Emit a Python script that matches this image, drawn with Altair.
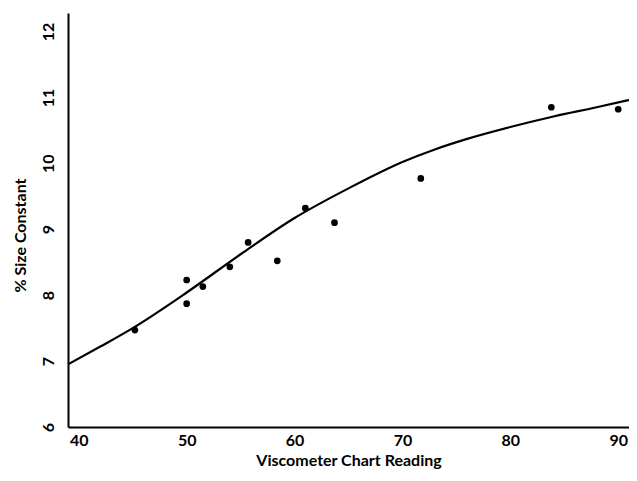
import altair as alt
import pandas as pd

# Measured data points
pt_x = [45.2, 50.0, 50.0, 51.5, 54.0, 55.7, 58.4, 61.0, 63.7, 71.7, 83.8, 90.0]
pt_y = [7.47, 8.23, 7.87, 8.13, 8.43, 8.80, 8.52, 9.32, 9.10, 9.77, 10.85, 10.82]

# Fitted curve
curve_x = [39.0, 42.0, 45.0, 50.0, 55.0, 60.0, 65.0, 70.0, 73.0, 76.0, 80.0, 84.0, 88.0, 91.0]
curve_y = [6.95, 7.22, 7.50, 8.04, 8.62, 9.17, 9.62, 10.02, 10.21, 10.37, 10.55, 10.71, 10.85, 10.96]

x_ticks = [40, 50, 60, 70, 80, 90]
y_ticks = [6, 7, 8, 9, 10, 11, 12]

points = pd.DataFrame({"x": pt_x, "y": pt_y})
curve = pd.DataFrame({"x": curve_x, "y": curve_y})

FONT = "Lato"

xscale = alt.Scale(domain=[39, 91.0], nice=False, zero=False)
yscale = alt.Scale(domain=[6, 12.28], nice=False, zero=False)

xaxis = alt.Axis(
    values=x_ticks, title="Viscometer Chart Reading", grid=False, ticks=False,
    domainColor="black", domainWidth=2, labelFont=FONT, labelFontSize=16,
    labelFontWeight="bold", labelColor="black", labelPadding=5, labelFlush=False,
    format="d",
    titleFont=FONT, titleFontSize=16, titleFontWeight="bold", titleColor="black",
    titlePadding=4,
)
yaxis = alt.Axis(
    values=y_ticks, title="% Size Constant", grid=False, ticks=False,
    domainColor="black", domainWidth=2, labelFont=FONT, labelFontSize=16,
    labelFontWeight="bold", labelColor="black", labelAngle=270, labelPadding=12,
    labelFlush=False, labelOverlap=False, format="d",
    titleFont=FONT, titleFontSize=16, titleFontWeight="bold", titleColor="black",
    titlePadding=12, titleY=222,
)

line = alt.Chart(curve).mark_line(color="black", strokeWidth=2.2, interpolate="monotone").encode(
    x=alt.X("x:Q", scale=xscale, axis=xaxis),
    y=alt.Y("y:Q", scale=yscale, axis=yaxis),
)
dots = alt.Chart(points).mark_circle(color="black", opacity=1, size=45).encode(
    x=alt.X("x:Q", scale=xscale),
    y=alt.Y("y:Q", scale=yscale),
)

chart = (line + dots).properties(
    width=561, height=414,
    autosize=alt.AutoSizeParams(type="none"),
    padding={"left": 60, "top": 5, "right": 0, "bottom": 42},
    background="white",
).configure_view(stroke=None)

chart.save("out.html", embed_options={"renderer": "svg", "actions": False})
